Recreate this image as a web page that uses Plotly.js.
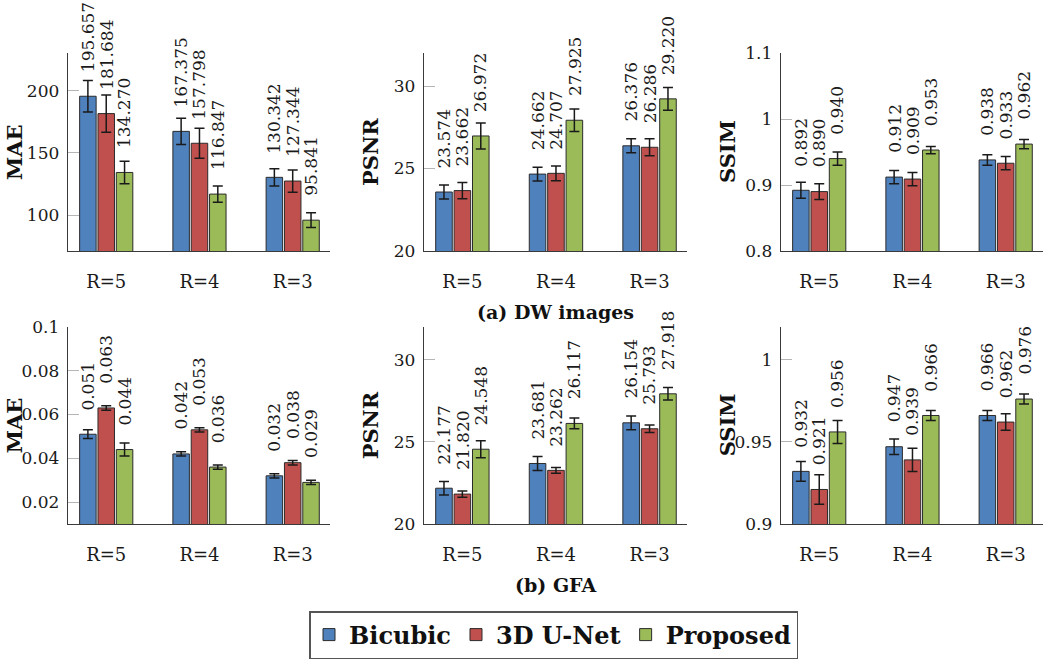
<!DOCTYPE html>
<html>
<head>
<meta charset="utf-8">
<script src="https://cdn.plot.ly/plotly-3.0.1.min.js"></script>
<style>html,body{margin:0;padding:0;background:#fff;}#chart{width:1050px;height:661px;}</style>
</head>
<body>
<div id="chart"></div>
<script>
// ---- data ----
const categories = ['R=5', 'R=4', 'R=3'];
const seriesNames = ['Bicubic', '3D U-Net', 'Proposed'];
const seriesColors = ['#4F81BD', '#C0504D', '#9BBB59'];

// (a) DW images
const dwMaeBicubic = [195.657, 167.375, 130.342];
const dwMaeUnet = [181.684, 157.798, 127.344];
const dwMaeProposed = [134.270, 116.847, 95.841];
const dwMaeErrBicubic = [12.7, 10.5, 7.0];
const dwMaeErrUnet = [15.0, 12.0, 9.0];
const dwMaeErrProposed = [9.0, 6.5, 6.0];

const dwPsnrBicubic = [23.574, 24.662, 26.376];
const dwPsnrUnet = [23.662, 24.707, 26.286];
const dwPsnrProposed = [26.972, 27.925, 29.220];
const dwPsnrErrBicubic = [0.43, 0.42, 0.42];
const dwPsnrErrUnet = [0.49, 0.45, 0.52];
const dwPsnrErrProposed = [0.79, 0.68, 0.69];

const dwSsimBicubic = [0.892, 0.912, 0.938];
const dwSsimUnet = [0.890, 0.909, 0.933];
const dwSsimProposed = [0.940, 0.953, 0.962];
const dwSsimErrBicubic = [0.012, 0.010, 0.008];
const dwSsimErrUnet = [0.012, 0.010, 0.010];
const dwSsimErrProposed = [0.010, 0.0055, 0.007];

// (b) GFA
const gfaMaeBicubic = [0.051, 0.042, 0.032];
const gfaMaeUnet = [0.063, 0.053, 0.038];
const gfaMaeProposed = [0.044, 0.036, 0.029];
const gfaMaeErrBicubic = [0.002, 0.001, 0.001];
const gfaMaeErrUnet = [0.001, 0.001, 0.001];
const gfaMaeErrProposed = [0.003, 0.001, 0.001];

const gfaPsnrBicubic = [22.177, 23.681, 26.154];
const gfaPsnrUnet = [21.820, 23.262, 25.793];
const gfaPsnrProposed = [24.548, 26.117, 27.918];
const gfaPsnrErrBicubic = [0.41, 0.42, 0.42];
const gfaPsnrErrUnet = [0.19, 0.17, 0.23];
const gfaPsnrErrProposed = [0.52, 0.33, 0.38];

const gfaSsimBicubic = [0.932, 0.947, 0.966];
const gfaSsimUnet = [0.921, 0.939, 0.962];
const gfaSsimProposed = [0.956, 0.966, 0.976];
const gfaSsimErrBicubic = [0.006, 0.0047, 0.003];
const gfaSsimErrUnet = [0.009, 0.007, 0.005];
const gfaSsimErrProposed = [0.007, 0.003, 0.003];

const panelTitles = ['MAE', 'PSNR', 'SSIM', 'MAE', 'PSNR', 'SSIM'];
const subCaptions = ['(a) DW images', '(b) GFA'];

// ---- layout settings ----
const W = 1050, H = 661;
const FONT = 'DejaVu Serif';
const bargap = 0.41, bargroupgap = 0.1;
const xDomainsPx = [[68, 330], [424, 687], [781, 1043]];
const yDomainsPx = [[53, 251], [326.7, 524]];
const yRanges = [[71, 230.5], [20, 32], [0.8, 1.1], [0.01, 0.1001], [20, 32], [0.9, 1.02]];
const yDticks = [50, 5, 0.1, 0.02, 5, 0.05];

const panels = [
  {vals: [dwMaeBicubic, dwMaeUnet, dwMaeProposed], errs: [dwMaeErrBicubic, dwMaeErrUnet, dwMaeErrProposed]},
  {vals: [dwPsnrBicubic, dwPsnrUnet, dwPsnrProposed], errs: [dwPsnrErrBicubic, dwPsnrErrUnet, dwPsnrErrProposed]},
  {vals: [dwSsimBicubic, dwSsimUnet, dwSsimProposed], errs: [dwSsimErrBicubic, dwSsimErrUnet, dwSsimErrProposed]},
  {vals: [gfaMaeBicubic, gfaMaeUnet, gfaMaeProposed], errs: [gfaMaeErrBicubic, gfaMaeErrUnet, gfaMaeErrProposed]},
  {vals: [gfaPsnrBicubic, gfaPsnrUnet, gfaPsnrProposed], errs: [gfaPsnrErrBicubic, gfaPsnrErrUnet, gfaPsnrErrProposed]},
  {vals: [gfaSsimBicubic, gfaSsimUnet, gfaSsimProposed], errs: [gfaSsimErrBicubic, gfaSsimErrUnet, gfaSsimErrProposed]}
];

const traces = [];
const annotations = [];
const layout = {
  width: W, height: H,
  margin: {l: 0, r: 0, t: 0, b: 0},
  paper_bgcolor: '#ffffff', plot_bgcolor: '#ffffff',
  barmode: 'group', bargap: bargap, bargroupgap: bargroupgap,
  font: {family: FONT, size: 17, color: '#1a1a1a'},
  showlegend: true,
  legend: {
    orientation: 'h',
    x: 309 / W, xanchor: 'left',
    y: 1 - 611 / H, yanchor: 'top',
    bordercolor: '#555555', borderwidth: 1.5,
    bgcolor: '#ffffff',
    font: {family: FONT, size: 24, weight: 'bold', color: '#111'},
    itemwidth: 30
  },
  annotations: annotations
};

const slot = (1 - bargap) / 3;

panels.forEach((p, pi) => {
  const row = Math.floor(pi / 3), col = pi % 3;
  const suffix = pi === 0 ? '' : String(pi + 1);
  const xa = 'x' + suffix, ya = 'y' + suffix;
  const xd = xDomainsPx[col], yd = yDomainsPx[row];
  layout['xaxis' + suffix] = {
    domain: [xd[0] / W, xd[1] / W],
    anchor: ya,
    type: 'category',
    range: [-0.41, 2.40],
    showline: true, linecolor: '#3a3a3a', linewidth: 1.3,
    ticks: '', showgrid: false, zeroline: false,
    tickfont: {family: FONT, size: 18, color: '#1a1a1a'},
    ticklabelstandoff: 14,
    fixedrange: true
  };
  layout['yaxis' + suffix] = {
    domain: [1 - yd[1] / H, 1 - yd[0] / H],
    anchor: xa,
    range: yRanges[pi],
    dtick: yDticks[pi], tick0: 0,
    showline: true, linecolor: '#3a3a3a', linewidth: 1.3,
    ticks: 'inside', ticklen: 11, tickcolor: '#b5b5b5', tickwidth: 1,
    showgrid: false, zeroline: false,
    tickfont: {family: FONT, size: 17, color: '#1a1a1a'},
    ticklabelstandoff: 4,
    fixedrange: true
  };
  p.vals.forEach((v, k) => {
    traces.push({
      type: 'bar',
      name: seriesNames[k],
      x: categories, y: v,
      xaxis: xa, yaxis: ya,
      marker: {color: seriesColors[k], line: {color: '#2b2b2b', width: 1}},
      error_y: {type: 'data', array: p.errs[k], visible: true, color: '#1a1a1a', thickness: 1.5, width: 5},
      showlegend: pi === 0,
      legendgroup: seriesNames[k],
      hoverinfo: 'skip'
    });
    v.forEach((val, i) => {
      annotations.push({
        xref: xa, yref: ya,
        x: i + (k - 1) * slot, y: val,
        text: val.toFixed(3),
        showarrow: false,
        textangle: -90,
        xanchor: 'center', yanchor: 'bottom',
        yshift: 22,
        font: {family: FONT, size: 17, color: '#1a1a1a'}
      });
    });
  });
  // y-axis title
  annotations.push({
    xref: 'paper', yref: 'paper',
    x: xd[0] / W, xshift: -54,
    y: 1 - (yd[0] + yd[1]) / 2 / H,
    text: panelTitles[pi],
    showarrow: false, textangle: -90,
    xanchor: 'center', yanchor: 'middle',
    font: {family: FONT, size: 21, weight: 'bold', color: '#111'}
  });
});

// sub-captions
const captionY = [311.7, 585];
subCaptions.forEach((c, r) => {
  annotations.push({
    xref: 'paper', yref: 'paper',
    x: (xDomainsPx[1][0] + xDomainsPx[1][1]) / 2 / W,
    y: 1 - captionY[r] / H,
    text: c, showarrow: false,
    xanchor: 'center', yanchor: 'middle',
    font: {family: FONT, size: 19, weight: 'bold', color: '#111'}
  });
});

Plotly.newPlot('chart', traces, layout, {staticPlot: true, displayModeBar: false});
</script>
</body>
</html>
